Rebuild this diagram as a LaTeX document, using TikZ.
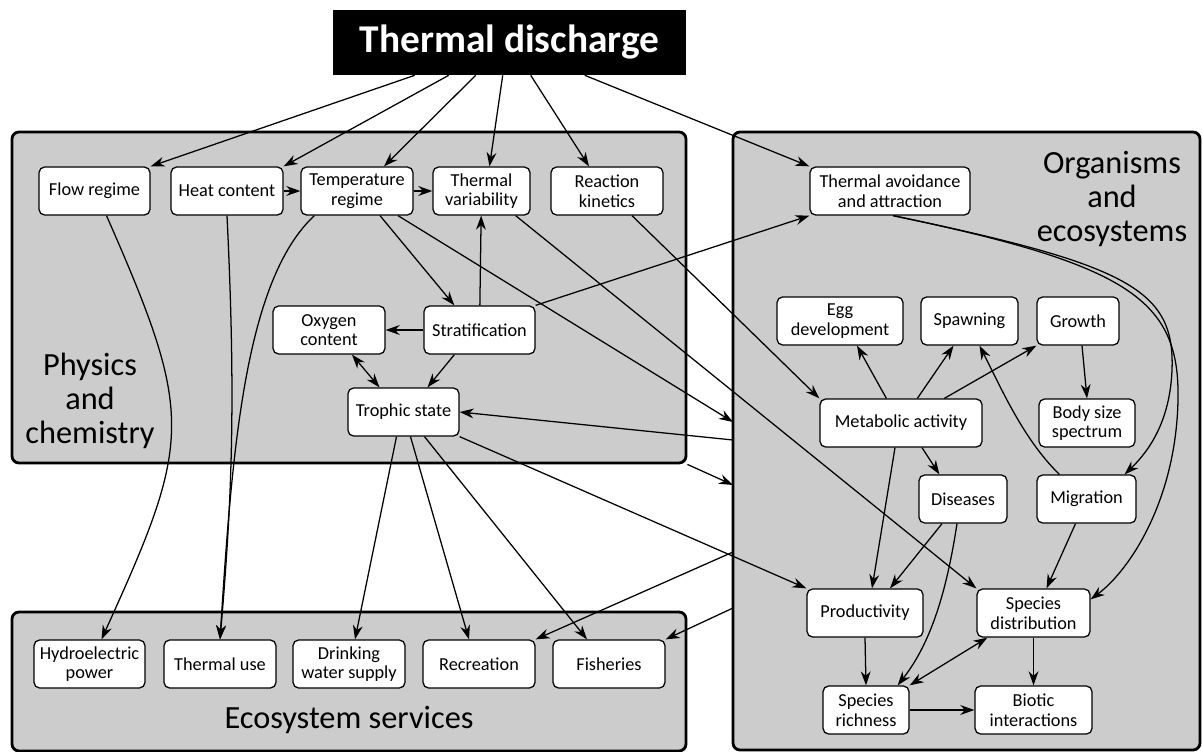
\documentclass[tikz,border=0pt]{standalone}
\usepackage{fontspec}
\setmainfont{Carlito}
\usetikzlibrary{arrows.meta,calc}
\tikzset{
  box/.style={draw, rounded corners=4pt, fill=white, align=center, minimum height=1.2cm, inner sep=1pt, line width=0.9pt, font=\fontsize{13}{14}\selectfont},
  wd/.style={minimum width=#1*0.025cm},
  group/.style={draw, rounded corners=5pt, fill=black!20, line width=2pt},
  grouplabel/.style={align=center, font=\fontsize{23}{24}\selectfont},
  arr/.style={-{Stealth[length=10pt,width=7pt]}, line width=0.9pt},
  darr/.style={{Stealth[length=10pt,width=7pt]}-{Stealth[length=10pt,width=7pt]}, line width=0.9pt},
}
\begin{document}
\begin{tikzpicture}[x=0.025cm,y=-0.025cm]
\useasboundingbox (0,0) rectangle (1202,751);
% groups
\node[group, wd=674, minimum height=331*0.025cm] (phys) at (349,297.5) {};
\node[group, wd=674, minimum height=139*0.025cm] (serv) at (349,681.5) {};
\node[group, wd=467, minimum height=618*0.025cm] (org) at (966.5,441) {};
\node[grouplabel] (physlabel) at (90,401) {Physics\\and\\chemistry};
\node[grouplabel] (orglabel) at (1112,199) {Organisms\\and\\ecosystems};
\node[grouplabel] (servlabel) at (349,720) {Ecosystem services};
\coordinate (orgin1) at (733,422);
\coordinate (orgout1) at (733,440);
\coordinate (orgin2) at (733,485);
\coordinate (orgout2) at (733,552);
\coordinate (orgout3) at (733,608);
% source
\node[fill=black, text=white, font=\fontsize{28}{30}\selectfont\bfseries, wd=353, minimum height=1.625cm] (td) at (509.5,42.5) {Thermal discharge};
% physics and chemistry
\node[box, wd=111] (flow) at (94.5,191) {Flow regime};
\node[box, wd=112] (heat) at (227,191) {Heat content};
\node[box, wd=112] (temp) at (357,191) {Temperature\\regime};
\node[box, wd=97] (tvar) at (481.5,191) {Thermal\\variability};
\node[box, wd=112] (kin) at (607,191) {Reaction\\kinetics};
\node[box, wd=112] (oxy) at (329,330) {Oxygen\\content};
\node[box, wd=111] (strat) at (479.5,330) {Stratification};
\node[box, wd=111] (troph) at (403.5,412) {Trophic state};
% organisms and ecosystems
\node[box, wd=160] (avoid) at (890,191) {Thermal avoidance\\and attraction};
\node[box, wd=126] (egg) at (840,321) {Egg\\development};
\node[box, wd=97] (spawn) at (969.5,321) {Spawning};
\node[box, wd=82] (growth) at (1078,321) {Growth};
\node[box, wd=162] (metab) at (901,423) {Metabolic activity};
\node[box, wd=96] (body) at (1087,423) {Body size\\spectrum};
\node[box, wd=88] (dis) at (963,499) {Diseases};
\node[box, wd=99] (mig) at (1086.5,499) {Migration};
\node[box, wd=116] (prod) at (865,613) {Productivity};
\node[box, wd=113] (sdist) at (1033.5,613) {Species\\distribution};
\node[box, wd=86] (srich) at (866,710) {Species\\richness};
\node[box, wd=117] (biotic) at (1033.5,710) {Biotic\\interactions};
% ecosystem services
\node[box, wd=111] (hydro) at (89.5,664) {Hydroelectric\\power};
\node[box, wd=112] (tuse) at (220,664) {Thermal use};
\node[box, wd=112] (drink) at (349,664) {Drinking\\water supply};
\node[box, wd=112] (recr) at (479,664) {Recreation};
\node[box, wd=112] (fish) at (609,664) {Fisheries};
% from thermal discharge
\draw[arr] ($(td.south west)+(82,0)$) -- (flow.north east);
\draw[arr] ($(td.south west)+(116,0)$) -- (heat.north east);
\draw[arr] ($(td.south west)+(143,0)$) -- ($(temp.north)+(27,0)$);
\draw[arr] ($(td.south west)+(170,0)$) -- ($(tvar.north)+(8,0)$);
\draw[arr] ($(td.south west)+(198,0)$) -- ($(kin.north)+(-18,0)$);
\draw[arr] ($(td.south west)+(252,0)$) -- (avoid.north west);
% physics and chemistry
\draw[arr] (heat) -- (temp);
\draw[arr] (temp) -- (tvar);
\draw[arr] ($(temp.south)+(23,0)$) -- ($(strat.north west)+(31,0)$);
\draw[arr] ($(temp.south)+(41,0)$) -- (orgin1);
\draw[arr] (strat) -- (tvar);
\draw[arr] (strat) -- (oxy);
\draw[arr] ($(strat.south west)+(31,0)$) -- ($(troph.north)+(24,0)$);
\draw[darr] ($(oxy.south)+(23,0)$) -- ($(troph.north)+(-24,0)$);
\draw[arr] (strat.north east) -- (avoid.south west);
\draw[arr] ($(tvar.south east)+(-15,0)$) -- (sdist.north west);
\draw[arr] ($(kin.south)+(25,0)$) -- (metab.north west);
\draw[arr] ($(flow.south)+(12,0)$) .. controls (195,417) and (192,440) .. ($(hydro.north)+(12,0)$);
\draw[arr] (heat.south) .. controls (236,400) and (232,500) .. (tuse.north);
\draw[arr] ($(temp.south west)+(14,0)$) .. controls (245,280) and (232,450) .. (tuse.north);
% trophic state
\draw[arr] ($(troph.south)+(-7,0)$) -- ($(drink.north)+(6,0)$);
\draw[arr] ($(troph.south)+(7,0)$) -- ($(recr.north)+(-10,0)$);
\draw[arr] ($(troph.south)+(21,0)$) -- ($(fish.north)+(-22,0)$);
\draw[arr] (troph.south east) -- (prod.north west);
% between groups
\draw[arr] (orgout1) -- (troph.east);
\draw[arr] (phys.south east) -- (orgin2);
\draw[arr] (orgout2) -- (recr.north east);
\draw[arr] (orgout3) -- (fish.north east);
% organisms and ecosystems
\draw[arr] ($(avoid.south)+(3,0)$) .. controls (1130,265) and (1175,290) .. (1172,370) .. controls (1170,420) and (1150,450) .. ($(mig.north east)+(-12,0)$);
\draw[arr] ($(avoid.south)+(3,0)$) .. controls (1130,265) and (1180,300) .. (1178,400) .. controls (1176,500) and (1130,570) .. ($(sdist.north east)+(0,11)$);
\draw[arr] ($(metab.north west)+(67,0)$) -- ($(egg.south)+(17,0)$);
\draw[arr] ($(metab.north west)+(98,0)$) -- ($(spawn.south)+(-16,0)$);
\draw[arr] ($(metab.north west)+(125,0)$) -- (growth.south west);
\draw[arr] ($(growth.south)+(4,0)$) -- (body.north);
\draw[arr] ($(mig.north west)+(23,0)$) .. controls (1024,440) and (1002,390) .. ($(spawn.south)+(10,0)$);
\draw[arr] ($(metab.south)+(21,0)$) -- ($(dis.north west)+(21,0)$);
\draw[arr] ($(metab.south)+(-6,0)$) -- ($(prod.north)+(7,0)$);
\draw[arr] ($(dis.south)+(-21,0)$) -- ($(prod.north)+(25,0)$);
\draw[arr] ($(dis.south)+(-6,0)$) .. controls (948,582) and (934,639) .. ($(srich.north east)+(-12,0)$);
\draw[arr] ($(mig.south)+(-11,0)$) -- ($(sdist.north)+(13,0)$);
\draw[arr] (prod.south) -- (srich.north);
\draw[darr] (srich.north east) -- ($(sdist.south west)+(11,0)$);
\draw[arr] (sdist) -- (biotic);
\draw[arr] (srich) -- (biotic);
\end{tikzpicture}
\end{document}
